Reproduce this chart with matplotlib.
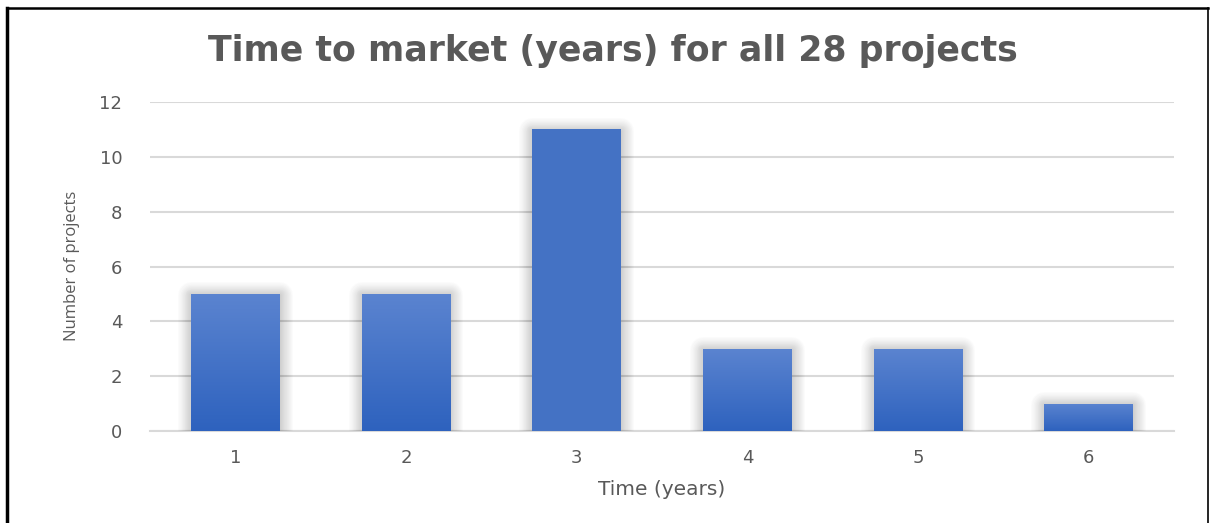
import numpy as np
import matplotlib
matplotlib.use('Agg')
import matplotlib.pyplot as plt
from matplotlib.patches import Rectangle
from matplotlib.colors import LinearSegmentedColormap

# data
years = [1, 2, 3, 4, 5, 6]
counts = [5, 5, 11, 3, 3, 1]
flat_bar = 3  # this bar is drawn without the gradient in the original

title = 'Time to market (years) for all 28 projects'
xlabel = 'Time (years)'
ylabel = 'Number of projects'

text_grey = '#595959'
grid_grey = '#d9d9d9'
bar_width = 0.52

fig = plt.figure(figsize=(12.13, 5.23), dpi=100)
ax = fig.add_axes([0.1237, 0.1759, 0.8442, 0.629])

grad = LinearSegmentedColormap.from_list('bar', ['#2e62be', '#5b84d0'])
g = np.linspace(0, 1, 256).reshape(-1, 1)

for x, c in zip(years, counts):
    x0 = x - bar_width / 2
    # soft shadow
    for i in range(12):
        sh = Rectangle((x0, -0.05), bar_width, c, facecolor='none',
                       edgecolor='black', linewidth=1 + i * 1.6,
                       alpha=0.015, joinstyle='round', zorder=2)
        ax.add_patch(sh)
    rect = Rectangle((x0, 0), bar_width, c, facecolor='#4472c4',
                     edgecolor='none', zorder=3)
    ax.add_patch(rect)
    if x != flat_bar:
        im = ax.imshow(g, cmap=grad, origin='lower', aspect='auto',
                       extent=(x0, x0 + bar_width, 0, c), zorder=4)
        im.set_clip_path(rect)

ax.set_xlim(0.5, 6.5)
ax.set_ylim(0, 12)
ax.set_xticks(years)
ax.set_yticks(range(0, 13, 2))
ax.yaxis.grid(True, color=grid_grey, linewidth=1.5)
ax.set_axisbelow(True)
for s in ['left', 'right', 'top']:
    ax.spines[s].set_visible(False)
ax.spines['bottom'].set_color(grid_grey)
ax.spines['bottom'].set_linewidth(1.5)
ax.spines['bottom'].set_zorder(1)
ax.tick_params(length=0, labelsize=13, labelcolor=text_grey,
               labelfontfamily='DejaVu Sans')
ax.tick_params(axis='y', pad=20)
ax.tick_params(axis='x', pad=13)

ax.set_xlabel(xlabel, fontsize=14.5, color=text_grey, family='DejaVu Sans', labelpad=9)
fig.text(0.059, 0.492, ylabel, rotation=90, ha='center', va='center',
         fontsize=12, color=text_grey, family='Open Sans')
fig.text(0.505, 0.902, title, ha='center', va='center', fontsize=25,
         fontweight='bold', color=text_grey, family='DejaVu Sans')

# frame around the chart
fig.add_artist(plt.Line2D([0.0058, 0.0058], [0, 0.985], color='black', linewidth=2.5, transform=fig.transFigure))
fig.add_artist(plt.Line2D([0.0058, 0.996], [0.985, 0.985], color='black', linewidth=1.8, transform=fig.transFigure))
fig.add_artist(plt.Line2D([0.996, 0.996], [0, 0.985], color='black', linewidth=1.2, transform=fig.transFigure))

fig.savefig('out.png', dpi=100)
